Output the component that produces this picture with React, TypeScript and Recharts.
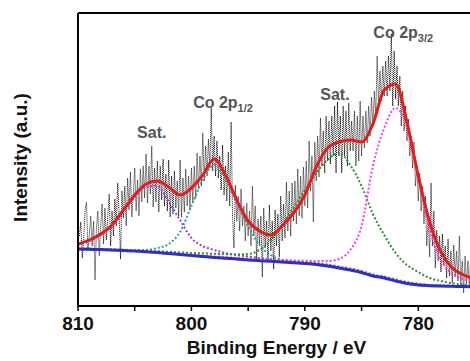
import { LineChart, Line, XAxis, YAxis, ReferenceDot, ReferenceLine } from 'recharts';

const FONT = "'Liberation Sans', Arial, Helvetica, sans-serif";

// fitted curves, sampled every 1 eV from 810 eV down to 775 eV (arbitrary intensity units)
const fitStart = 810;
const envelope = [62, 66, 72, 81, 96, 111, 122, 125, 119, 111, 118, 131, 147, 131, 106, 85, 75, 71, 80, 93, 111, 139, 158, 164, 166, 164, 182, 216, 222, 184, 130, 84, 54, 38, 31, 27];
const background = [57, 56.7, 56.4, 56, 55.5, 55, 54.3, 53.5, 52.5, 51.5, 50.5, 49.5, 48.5, 47.7, 47, 46, 45.3, 44.7, 44, 43.3, 42.5, 41.5, 40, 38, 36, 33.5, 30, 28, 25, 22.5, 21, 20.3, 20, 19.7, 19.4, 19.2];
const satHigh = [61, 65, 71, 80, 94, 109, 119, 120, 104, 86, 68, 60, 56, 53, 51, 49.5, 48, 47, 46, 45, 44, 43, 41.5, 39.5, 37.5, 35, 31.5, 29.5, 26.5, 24, 22.5, 21, 20.5, 20.2, 19.9, 19.6];
const co2p12 = [56.5, 56.3, 56, 55.7, 55.5, 55.5, 56, 58, 62, 74, 100, 126, 141, 126, 103, 80, 61, 51, 46, 44, 43, 42, 40.5, 38.5, 36.5, 34, 30.5, 28.5, 25.5, 23, 21.5, 20.8, 20.3, 20, 19.7, 19.5];
const satLow = [57.5, 57.2, 57, 56.6, 56.2, 55.8, 55.3, 54.8, 54.2, 53.6, 53, 52.6, 52.2, 51.8, 51.6, 52, 56, 66, 81, 98, 116, 133, 146, 153, 141, 120, 92, 71, 53, 41, 34, 28, 25, 22.7, 21.3, 20.7];
const co2p32 = [57.5, 57.2, 56.9, 56.5, 56, 55.5, 54.8, 54, 53, 52, 51.2, 50.3, 49.5, 48.8, 48.2, 47.4, 46.8, 46.3, 45.8, 45.4, 45.2, 45, 45, 47, 56, 80, 140, 178, 198, 179, 131, 77, 46, 32, 27, 25];

// raw counts, every 0.125 eV from 809.875 eV down to 775 eV (one row per eV)
const rawStart = 809.875;
const rawStep = 0.125;
const rawCounts = [
  70, 84, 48, 66, 96, 104, 55, 72,
  90, 60, 85, 26, 78, 95, 50, 80,
  102, 62, 98, 66, 90, 112, 60, 95,
  70, 107, 80, 123, 92, 47, 115, 88,
  120, 80, 128, 96, 134, 89, 112, 138,
  95, 126, 90, 137, 104, 140, 108, 152,
  103, 140, 112, 160, 99, 138, 104, 145,
  94, 140, 106, 147, 100, 132, 95, 146,
  89, 130, 92, 135, 98, 125, 90, 146,
  89, 128, 94, 137, 100, 130, 96, 138,
  104, 140, 108, 153, 117, 150, 120, 173,
  125, 160, 130, 167, 138, 198, 135, 170,
  130, 165, 128, 150, 116, 161, 111, 140,
  105, 154, 100, 184, 90, 58, 121, 85,
  110, 75, 117, 80, 100, 65, 103, 70,
  95, 60, 120, 70, 100, 47, 87, 62,
  90, 29, 98, 58, 85, 45, 101, 55,
  85, 37, 96, 60, 92, 49, 110, 65,
  102, 68, 124, 75, 115, 70, 123, 85,
  125, 82, 137, 90, 130, 88, 139, 100,
  145, 98, 165, 115, 150, 84, 164, 125,
  170, 129, 188, 140, 175, 133, 190, 145,
  185, 142, 190, 150, 200, 133, 204, 150,
  190, 133, 200, 150, 195, 140, 203, 155,
  185, 155, 195, 140, 190, 145, 205, 150,
  190, 158, 195, 163, 200, 170, 209, 180,
  215, 190, 250, 200, 235, 205, 240, 210,
  245, 210, 250, 215, 272, 200, 255, 207,
  240, 200, 230, 180, 215, 175, 200, 165,
  187, 150, 170, 138, 164, 120, 140, 105,
  133, 95, 120, 82, 110, 60, 90, 49,
  123, 60, 95, 38, 76, 45, 70, 34,
  72, 40, 60, 28, 67, 30, 55, 23,
  61, 30, 55, 25, 70, 20, 45, 13,
  50, 22, 45, 19, 50, 25, 40, 19,
];

const xTicks = [810, 805, 800, 795, 790, 785, 780, 775];
const xTickLabels = ['810', '', '800', '', '790', '', '780', ''];

const peakLabels = [
  { e: 804.79, v: 168, main: 'Sat.', sub: '' },
  { e: 799.85, v: 198, main: 'Co 2p', sub: '1/2' },
  { e: 788.64, v: 206, main: 'Sat.', sub: '' },
  { e: 783.96, v: 268, main: 'Co 2p', sub: '3/2' },
];

const fitRows = envelope.map((v, i) => ({
  e: fitStart - i,
  envelope: v,
  background: background[i],
  satHigh: satHigh[i],
  co2p12: co2p12[i],
  satLow: satLow[i],
  co2p32: co2p32[i],
}));

const rawRows = rawCounts.map((v, i) => ({ e: rawStart - i * rawStep, raw: v }));

const components = [
  { key: 'satHigh', color: '#9b3fd6' },
  { key: 'co2p12', color: '#2f9c98' },
  { key: 'satLow', color: '#2f8f2f' },
  { key: 'co2p32', color: '#ee3fee' },
];

const peakText = (main: string, sub: string) => (props: any) => {
  const { x, y } = props.viewBox;
  return (
    <text x={x} y={y} fill="#555" fontSize={16} fontWeight="bold" fontFamily={FONT}>
      {main}
      {sub ? <tspan dy={4} fontSize={11}>{sub}</tspan> : null}
    </text>
  );
};

export default function App() {
  return (
    <div style={{ position: 'absolute', left: 8, top: 8, width: 462, height: 353, overflow: 'hidden' }}>
      <LineChart width={480} height={353} data={fitRows} margin={{ top: 5, right: 13, bottom: 0, left: 0 }}>
        <XAxis
          dataKey="e"
          type="number"
          domain={[775, 810]}
          reversed
          allowDataOverflow
          ticks={xTicks}
          interval={0}
          tickFormatter={(v: number) => xTickLabels[xTicks.indexOf(v)] ?? ''}
          tickSize={5}
          tickMargin={6}
          height={55}
          axisLine={{ stroke: '#000', strokeWidth: 2 }}
          tickLine={{ stroke: '#000', strokeWidth: 1.5 }}
          tick={{ fontSize: 19, fontWeight: 'bold', fill: '#111', fontFamily: FONT }}
          label={(props: any) => {
            const vb = props.viewBox;
            return (
              <text x={vb.x + vb.width / 2} y={vb.y + 48} textAnchor="middle" fontSize={19}
                fontWeight="bold" fill="#111" fontFamily={FONT}>
                Binding Energy / eV
              </text>
            );
          }}
        />
        <YAxis
          type="number"
          domain={[0, 293]}
          allowDataOverflow
          width={70}
          tick={false}
          tickLine={false}
          axisLine={{ stroke: '#000', strokeWidth: 2 }}
          label={(props: any) => {
            const vb = props.viewBox;
            const cy = vb.y + vb.height / 2 - 2;
            return (
              <text x={19} y={cy} transform={`rotate(-90, 19, ${cy})`} textAnchor="middle"
                fontSize={19} fontWeight="bold" fill="#111" fontFamily={FONT}>
                Intensity (a.u.)
              </text>
            );
          }}
        />
        <ReferenceLine y={293} stroke="#000" strokeWidth={2} ifOverflow="visible" />
        <Line data={rawRows} dataKey="raw" type="linear" stroke="#111" strokeWidth={1}
          strokeDasharray="1 1" dot={false} isAnimationActive={false} />
        {components.map((c) => (
          <Line key={c.key} dataKey={c.key} type="monotone" stroke={c.color} strokeWidth={2}
            strokeDasharray="2 2" dot={false} isAnimationActive={false} />
        ))}
        <Line dataKey="background" type="monotone" stroke="#3030c0" strokeWidth={3}
          dot={false} isAnimationActive={false} />
        <Line dataKey="envelope" type="monotone" stroke="#e61c1c" strokeWidth={3}
          dot={false} isAnimationActive={false} />
        {peakLabels.map((p, i) => (
          <ReferenceDot key={i} x={p.e} y={p.v} r={0} stroke="none" fill="none"
            label={peakText(p.main, p.sub)} />
        ))}
      </LineChart>
    </div>
  );
}
